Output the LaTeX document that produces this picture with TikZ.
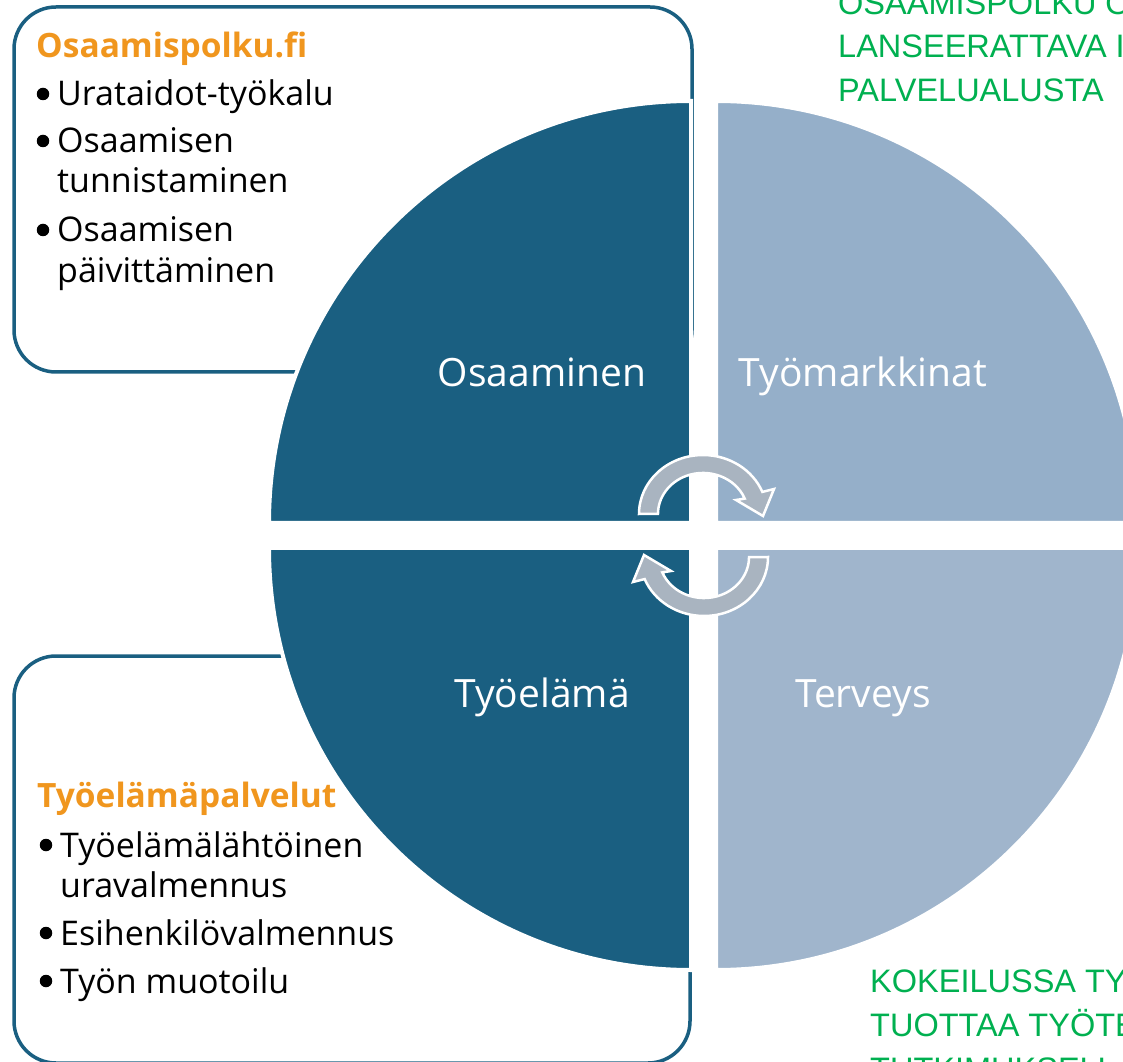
\documentclass[tikz,border=0pt]{standalone}
\usepackage{fontspec}
\setmainfont{Open Sans}
\newfontfamily\notefont{Liberation Sans}

\definecolor{petrol}{HTML}{1A5F81}
\definecolor{mistTop}{HTML}{95AFC9}
\definecolor{mistLow}{HTML}{A0B5CC}
\definecolor{cycGrey}{HTML}{A9B4C0}
\definecolor{headOrange}{HTML}{F0961E}
\definecolor{noteGreen}{HTML}{00B050}

\begin{document}
\begin{tikzpicture}[x=1pt,y=1pt,
  panel/.style={draw=petrol,line width=3.5pt,rounded corners=42pt},
  quarter/.style={draw=white,line width=4pt},
  qlabel/.style={text=white,font=\fontsize{39}{44}\selectfont,anchor=base,inner sep=0pt},
  head/.style={text=headOrange,font=\fontsize{33.5}{38}\selectfont\bfseries,anchor=base west,inner sep=0pt},
  item/.style={font=\fontsize{34}{40}\selectfont,anchor=base west,inner sep=0pt},
  dot/.style={circle,fill=black,inner sep=0pt,minimum size=12.5pt},
  note/.style={text=noteGreen,font=\notefont\fontsize{32.5}{38}\selectfont,anchor=base west,inner sep=0pt},
  cycarrow/.style={fill=cycGrey,draw=white,line width=2.5pt}]
\useasboundingbox (0,0) rectangle (1123,1061);
\clip (0,0) rectangle (1123,1061);

\draw[panel] (14,689) rectangle (692,1054);
\draw[panel] (14,-2) rectangle (690,405);

\path[quarter,fill=petrol] (691,538) -- (269,538) arc[start angle=180,end angle=90,radius=422] -- cycle;
\path[quarter,fill=mistTop] (716,538) -- (716,960) arc[start angle=90,end angle=0,radius=422] -- cycle;
\path[quarter,fill=petrol] (691,513) -- (269,513) arc[start angle=180,end angle=270,radius=422] -- cycle;
\path[quarter,fill=mistLow] (716,513) -- (1138,513) arc[start angle=0,end angle=-90,radius=422] -- cycle;

\foreach \r in {0,180}
{
\begin{scope}[rotate around={\r:(703.5,525.5)},shift={(703,547)}]
\path[cycarrow] (-64,0) arc[start angle=180,end angle=22,x radius=64,y radius=59]
  -- (71,25) -- (60,-2) -- (33,14) -- (41.7,15.4)
  arc[start angle=22,end angle=180,x radius=45,y radius=41] -- cycle;
\end{scope}
}

\node[qlabel] (qOsa) at (542,674) {Osaaminen};
\node[qlabel] (qTyom) at (863,674) {Työmarkkinat};
\node[qlabel] (qTyoe) at (542,354) {Työelämä};
\node[qlabel] (qTerv) at (863,354) {Terveys};

\node[head] (osHead) at (36,1003) {Osaamispolku.fi};
\foreach \yy/\txt [count=\k] in {955/Urataidot-työkalu,908/Osaamisen,868/tunnistaminen,819/Osaamisen,778/päivittäminen}
  \node[item] (osLine\k) at (57,\yy) {\txt};
\foreach \yy [count=\k] in {955,908,819}
  \node[dot] (osDot\k) at (43,\yy+12) {};

\node[head] (tyHead) at (37,254) {Työelämäpalvelut};
\foreach \yy/\txt [count=\k] in {204/Työelämälähtöinen,164/uravalmennus,116/Esihenkilövalmennus,68/Työn muotoilu}
  \node[item] (tyLine\k) at (60,\yy) {\txt};
\foreach \yy [count=\k] in {204,116,68}
  \node[dot] (tyDot\k) at (46,\yy+12) {};

\foreach \yy/\txt [count=\k] in {1046/OSAAMISPOLKU O,1003/LANSEERATTAVA I,959/PALVELUALUSTA}
  \node[note] (noteUp\k) at (838,\yy) {\txt};
\foreach \yy/\txt [count=\k] in {69/KOKEILUSSA TYÖ,25/TUOTTAA TYÖTE,-19/TUTKIMUKSELL}
  \node[note] (noteLow\k) at (870,\yy) {\txt};
\end{tikzpicture}
\end{document}
